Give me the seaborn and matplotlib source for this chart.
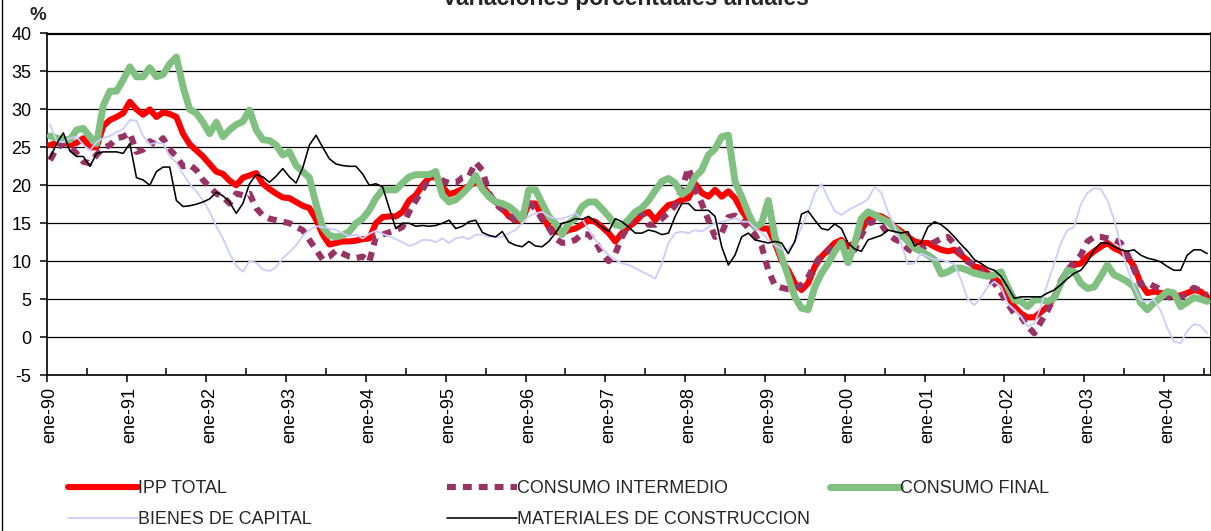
import numpy as np
import pandas as pd
import matplotlib
matplotlib.use("Agg")
import matplotlib.pyplot as plt
from matplotlib.lines import Line2D
import seaborn as sns

# ---------------- data (monthly, ene-90 .. jul-04) ----------------
years = list(range(1990, 2005))
tick_labels = ["ene-%02d" % (y % 100) for y in years]

ipp_total = [
    25.3, 25.6, 25.8, 25.3, 25.6, 26.2, 25.0, 25.0, 27.8, 28.6, 29.0, 29.5,
    31.0, 30.0, 29.3, 30.0, 29.0, 29.6, 29.4, 29.0, 26.8, 25.4, 24.6, 23.8,
    22.8, 21.8, 21.5, 20.6, 20.0, 21.0, 21.3, 21.6, 20.2, 19.5, 18.9, 18.4,
    18.3, 17.8, 17.3, 17.0, 15.5, 13.5, 12.2, 12.4, 12.6, 12.6, 12.7, 12.9,
    13.0, 15.0, 15.8, 15.9, 15.9, 16.5, 18.0, 18.7, 20.0, 21.0, 21.1, 19.8,
    18.8, 19.1, 19.5, 19.9, 20.4, 20.0, 18.8, 17.8, 17.0, 15.9, 15.4, 15.4,
    17.6, 17.6, 15.9, 14.5, 13.9, 13.7, 14.1, 14.3, 14.8, 15.4, 15.2, 14.5,
    13.7, 12.6, 13.7, 14.5, 15.2, 16.1, 16.5, 15.4, 16.5, 17.4, 17.6, 18.1,
    18.3, 20.2, 19.0, 18.5, 19.4, 18.5, 19.2, 18.3, 16.7, 15.4, 14.5, 14.3,
    14.3, 12.4, 10.1, 8.8, 7.1, 6.2, 7.1, 9.3, 10.6, 11.5, 12.4, 12.8,
    11.9, 12.4, 14.1, 15.6, 16.1, 15.9, 15.4, 14.5, 13.9, 13.2, 12.6, 12.4,
    12.4, 11.9, 11.5, 11.3, 11.5, 10.8, 10.1, 9.3, 9.1, 8.4, 7.7, 7.1,
    5.3, 4.0, 3.1, 2.6, 2.6, 3.3, 4.0, 5.3, 7.1, 8.8, 9.5, 9.7,
    10.6, 11.3, 11.9, 12.4, 11.7, 11.3, 10.6, 9.3, 7.1, 5.8, 6.0, 5.8,
    5.8, 5.3, 5.5, 5.8, 6.2, 6.0, 5.3,
]

consumo_intermedio = [
    23.3, 24.9, 25.5, 25.1, 24.2, 23.1, 22.9, 24.0, 24.9, 25.3, 26.2, 26.4,
    26.9, 24.4, 24.7, 25.8, 25.3, 26.2, 24.7, 23.8, 22.5, 22.7, 22.0, 20.7,
    19.8, 18.9, 18.5, 17.6, 18.9, 18.7, 18.9, 17.0, 16.0, 15.6, 15.4, 15.2,
    15.0, 14.5, 14.1, 12.8, 11.5, 10.2, 10.6, 11.4, 11.0, 10.6, 10.4, 10.6,
    9.9, 13.2, 13.5, 13.8, 14.1, 14.5, 16.5, 18.0, 19.4, 21.0, 21.8, 20.6,
    20.3, 20.3, 21.0, 21.2, 23.0, 22.0, 19.0, 17.5, 16.8, 16.3, 15.2, 16.1,
    17.7, 16.9, 15.5, 14.4, 13.0, 12.4, 12.5, 12.8, 13.6, 13.5, 12.6, 11.0,
    10.0, 11.0, 13.2, 14.7, 16.5, 16.3, 14.8, 14.8, 15.6, 16.4, 17.3, 19.5,
    22.3, 19.6, 17.6, 15.4, 13.2, 13.7, 15.8, 16.0, 15.3, 14.4, 13.5, 12.0,
    8.8, 6.8, 6.5, 6.3, 6.4, 6.9, 7.9, 9.6, 10.8, 11.3, 12.2, 12.1,
    11.3, 11.5, 13.4, 15.0, 15.2, 14.8, 13.6, 12.9, 12.5, 11.6, 11.1, 11.6,
    12.2, 12.5, 13.0, 13.2, 12.3, 11.0, 9.9, 9.5, 8.8, 7.5, 7.1, 5.8,
    4.4, 3.1, 2.7, 1.4, 0.5, 2.0, 3.5, 5.2, 7.4, 8.8, 9.9, 10.8,
    12.6, 13.2, 13.2, 13.0, 12.8, 12.4, 10.9, 8.9, 6.9, 7.2, 6.7, 6.3,
    5.3, 5.1, 5.2, 5.8, 6.5, 6.1, 5.5,
]

consumo_final = [
    26.5, 26.2, 26.0, 26.0, 27.3, 27.5, 26.4, 25.5, 30.5, 32.4, 32.4, 33.9,
    35.6, 34.3, 34.3, 35.5, 34.3, 34.6, 36.0, 36.9, 33.0, 30.0, 29.5, 28.3,
    26.8, 28.3, 26.4, 27.3, 28.0, 28.4, 29.9, 27.3, 26.0, 25.9, 25.3, 24.0,
    24.4, 22.6, 21.8, 21.0, 17.5, 14.5, 13.4, 13.2, 13.4, 13.9, 15.0, 15.6,
    16.7, 18.3, 19.4, 19.4, 19.4, 20.3, 21.1, 21.4, 21.4, 21.4, 21.8, 18.7,
    17.8, 18.1, 18.9, 19.8, 21.3, 19.5, 18.5, 17.8, 17.6, 17.2, 16.5, 15.4,
    19.4, 19.4, 17.6, 15.9, 15.0, 13.5, 15.0, 15.6, 17.2, 17.8, 17.8, 16.9,
    15.9, 14.8, 14.6, 15.5, 16.5, 17.0, 18.0, 19.3, 20.5, 20.9, 20.3, 18.8,
    19.4, 21.1, 22.0, 24.0, 24.8, 26.4, 26.6, 20.5, 18.5, 16.3, 14.5, 15.0,
    18.0, 13.2, 10.6, 8.0, 5.3, 3.8, 3.6, 6.6, 8.4, 9.7, 11.3, 12.5,
    9.8, 12.4, 15.6, 16.5, 16.1, 15.6, 15.2, 14.3, 13.5, 12.6, 11.7, 11.3,
    10.8, 10.2, 8.3, 8.6, 9.1, 9.1, 8.8, 8.4, 8.2, 8.0, 8.2, 8.6,
    6.6, 4.9, 4.7, 4.0, 4.9, 4.9, 4.7, 5.1, 7.1, 8.8, 8.6, 7.1,
    6.4, 6.6, 8.0, 9.5, 8.2, 7.8, 7.3, 6.6, 4.5, 3.6, 4.5, 5.2,
    6.0, 5.8, 4.0, 4.6, 5.2, 5.0, 4.7,
]

bienes_capital = [
    28.0, 25.8, 25.7, 26.2, 26.4, 25.3, 24.6, 25.7, 26.2, 26.5, 27.0, 27.4,
    28.6, 28.5, 26.5, 25.4, 25.6, 25.5, 23.8, 23.0, 21.5, 20.2, 19.2, 18.0,
    16.5, 14.6, 13.0, 11.0, 9.4, 8.6, 10.0, 9.8, 8.9, 8.7, 9.2, 10.4,
    11.2, 12.1, 13.3, 14.1, 14.6, 14.5, 14.3, 14.1, 13.7, 13.3, 13.5, 13.0,
    13.6, 14.0, 13.6, 13.3, 12.9, 12.5, 12.0, 12.3, 12.8, 12.8, 12.5, 13.0,
    12.4, 13.0, 13.2, 12.9, 13.5, 13.5, 13.2, 13.2, 13.2, 13.7, 14.1, 15.0,
    15.9, 16.3, 16.5, 15.9, 15.6, 15.6, 15.9, 16.3, 15.6, 14.1, 12.8, 11.7,
    10.8, 10.2, 9.7, 9.5, 9.1, 8.6, 8.2, 7.7, 9.7, 12.4, 13.7, 13.9,
    13.7, 14.1, 13.9, 14.5, 15.0, 15.2, 15.4, 15.7, 15.2, 15.2, 14.4, 13.8,
    12.8, 12.1, 11.6, 11.5, 12.5, 14.5, 16.5, 19.0, 20.2, 18.3, 16.6, 16.1,
    16.7, 17.2, 17.6, 18.2, 19.8, 19.0, 16.5, 14.6, 12.3, 9.6, 9.7, 11.0,
    10.6, 10.2, 10.2, 9.9, 9.6, 7.5, 5.0, 4.2, 5.3, 6.6, 7.3, 6.6,
    4.4, 3.6, 2.7, 1.4, 1.8, 4.0, 7.1, 9.7, 12.4, 14.1, 14.5, 17.5,
    19.0, 19.6, 19.5, 18.0, 15.5, 12.0, 9.0, 6.6, 4.8, 4.7, 4.9, 3.5,
    1.2, -0.6, -0.8, 0.8, 1.7, 1.5, 0.5,
]

materiales_construccion = [
    23.6, 25.5, 26.9, 24.5, 23.8, 23.8, 22.5, 24.2, 24.4, 24.4, 24.4, 24.2,
    25.5, 21.0, 20.7, 20.0, 21.8, 22.4, 22.4, 18.0, 17.2, 17.3, 17.5, 17.8,
    18.2, 19.1, 18.6, 17.8, 16.3, 17.6, 20.2, 21.4, 21.1, 20.4, 21.2, 22.2,
    21.1, 20.3, 22.3, 25.3, 26.6, 25.0, 23.5, 22.8, 22.6, 22.5, 22.5, 21.5,
    20.0, 20.2, 19.8, 17.0, 14.3, 15.0, 15.0, 14.6, 14.7, 14.6, 14.7, 15.0,
    15.4, 14.3, 14.6, 15.2, 15.4, 13.8, 13.4, 13.2, 13.9, 12.5, 12.1, 11.9,
    12.6, 12.0, 11.9, 12.6, 13.7, 15.0, 15.2, 15.6, 15.5, 15.9, 15.2, 14.5,
    13.9, 15.6, 15.2, 14.5, 13.7, 13.7, 14.1, 13.9, 13.5, 13.7, 15.9, 17.6,
    17.6, 16.7, 16.7, 16.7, 15.9, 11.9, 9.5, 10.8, 13.2, 13.7, 12.8, 12.6,
    12.4, 12.6, 12.4, 11.0, 12.6, 16.2, 16.6, 15.4, 14.3, 14.1, 14.9, 14.3,
    12.4, 11.6, 11.3, 12.8, 13.1, 13.4, 14.1, 13.9, 13.7, 13.9, 12.0, 12.5,
    14.5, 15.2, 14.8, 14.1, 13.2, 12.2, 11.3, 10.2, 9.7, 9.1, 8.8, 8.0,
    6.6, 5.1, 5.3, 5.3, 5.3, 5.3, 5.8, 6.2, 6.9, 7.7, 8.4, 8.8,
    9.9, 11.5, 12.4, 12.4, 11.9, 11.5, 11.3, 11.5, 10.8, 10.4, 10.2, 9.9,
    9.3, 8.8, 8.8, 10.8, 11.5, 11.5, 11.0,
]

series_names = ["IPP TOTAL", "CONSUMO INTERMEDIO", "CONSUMO FINAL",
                "BIENES DE CAPITAL", "MATERIALES DE CONSTRUCCION"]

# ---------------- figure ----------------
sns.set_theme(style="white")
plt.rcParams["font.family"] = ["Liberation Sans", "DejaVu Sans"]

W, H = 1211, 531
fig = plt.figure(figsize=(W / 100, H / 100), dpi=100)
ax = fig.add_axes([46.7 / W, 1 - 375 / H, (1210.5 - 46.7) / W, (375 - 33.5) / H])

n = len(ipp_total)
idx = np.arange(n)
df = pd.DataFrame({
    "mes": idx,
    series_names[0]: ipp_total,
    series_names[1]: consumo_intermedio,
    series_names[2]: consumo_final,
    series_names[3]: bienes_capital,
    series_names[4]: materiales_construccion,
})

styles = {
    "IPP TOTAL": dict(color="#FF0000", lw=4.4, dash=None),
    "CONSUMO INTERMEDIO": dict(color="#993366", lw=4.4, dash=(1.45, 1.15)),
    "CONSUMO FINAL": dict(color="#80C080", lw=5.0, dash=None),
    "BIENES DE CAPITAL": dict(color="#CCCCFF", lw=1.3, dash=None),
    "MATERIALES DE CONSTRUCCION": dict(color="#000000", lw=1.15, dash=None),
}

for name in series_names:
    st = styles[name]
    sns.lineplot(data=df, x="mes", y=name, ax=ax, color=st["color"],
                 linewidth=st["lw"], legend=False, zorder=3)
    line = ax.lines[-1]
    line.set_solid_joinstyle("round")
    if st["dash"] is not None:
        line.set_dashes(st["dash"])
        line.set_dash_capstyle("butt")

# axes styling
ax.set_xlim(-0.5, n - 0.5)
ax.set_ylim(-5, 40)
ax.set_yticks(np.arange(-5, 41, 5))
ax.set_yticklabels([str(v) for v in range(-5, 41, 5)])
ax.yaxis.grid(True, color="black", linewidth=0.9)
ax.set_axisbelow(True)
ax.set_xlabel("")
ax.set_ylabel("")
for s in ax.spines.values():
    s.set_color("black")
    s.set_linewidth(1.2)
    s.set_visible(True)
ax.spines["top"].set_linewidth(1.6)

# major ticks at the year boundaries (outward), labels at each January
ax.set_xticks([12 * k - 0.5 for k in range(len(years))])
ax.set_xticklabels([""] * len(years))
ax.tick_params(axis="x", which="major", direction="out", length=5, width=1.1,
               color="black", bottom=True)
ax.set_xticks([12 * k for k in range(len(years))], minor=True)
ax.set_xticklabels(tick_labels, minor=True, rotation=90, fontsize=13)
ax.tick_params(axis="x", which="minor", length=0, pad=8.5, labelcolor="black")
ax.tick_params(axis="y", direction="out", length=5, width=1.1, color="black",
               left=True, labelsize=13, pad=6, labelcolor="black")

# mid-year ticks pointing inward
sec = ax.secondary_xaxis("bottom")
sec.set_xticks([12 * k + 5.5 for k in range(len(years))])
sec.set_xticklabels([])
sec.tick_params(direction="in", length=5, width=1.1, color="black")
sec.spines["bottom"].set_visible(False)

# title (cut at the top as in the reference) and unit label
fig.text(625 / W, 1 - 5.5 / H, "Variaciones porcentuales anuales",
         ha="center", va="baseline", fontsize=16.5, fontweight="bold")
fig.text(37.5 / W, 1 - 15.5 / H, "%", ha="center", va="center",
         fontsize=13.5, fontweight="bold")

# outer chart border (left side visible)
fig.add_artist(Line2D([2 / W, 2 / W], [0, 1], color="black", lw=1.0,
                      transform=fig.transFigure))

# legend: three equal-width columns
def handle(name):
    st = styles[name]
    h = Line2D([], [], color=st["color"], lw=st["lw"])
    if st["dash"] is not None:
        h.set_dashes(st["dash"])
        h.set_dash_capstyle("butt")
    return h

columns = [
    (68, ["IPP TOTAL", "BIENES DE CAPITAL"]),
    (447, ["CONSUMO INTERMEDIO", "MATERIALES DE CONSTRUCCION"]),
    (830, ["CONSUMO FINAL"]),
]
for x0, names in columns:
    leg = fig.legend([handle(nm) for nm in names], names, loc="upper left",
                     bbox_to_anchor=(x0 / W, 1 - 480 / H), frameon=False,
                     fontsize=12.9, handlelength=3.9, handletextpad=0.0,
                     borderpad=0, borderaxespad=0, labelspacing=0.78)

fig.savefig("out.png", dpi=100)
